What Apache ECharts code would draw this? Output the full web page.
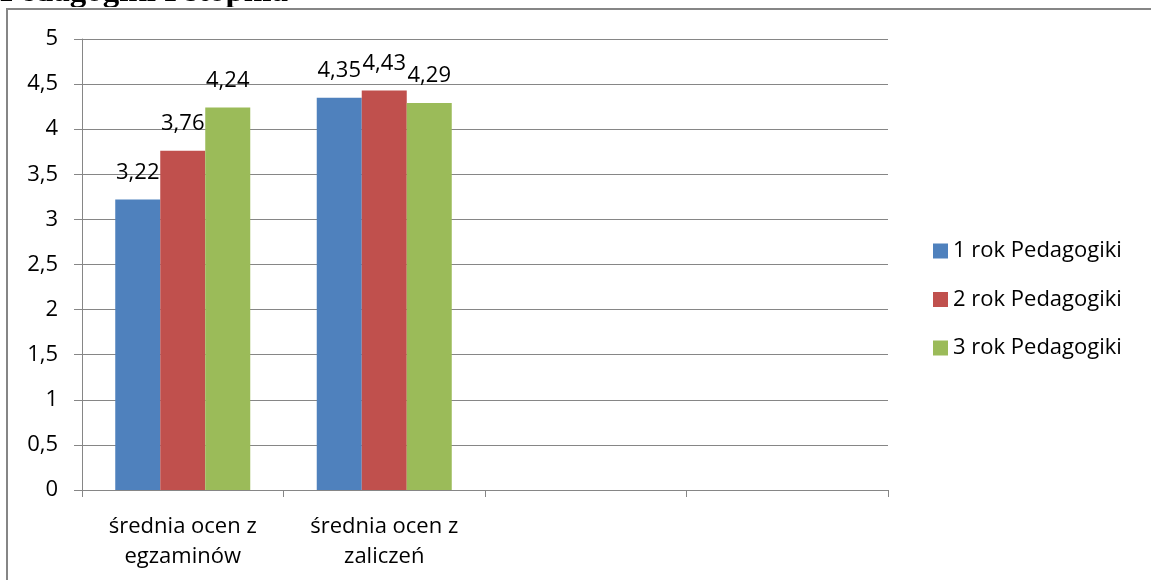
<!DOCTYPE html>
<html>
<head>
<meta charset="utf-8">
<script src="https://cdn.jsdelivr.net/npm/echarts@6/dist/echarts.min.js"></script>
<style>
html,body{margin:0;padding:0;background:#fff;}
#chart{width:1151px;height:580px;}
</style>
</head>
<body>
<div id="chart"></div>
<script>
const titleText = 'Pedagogiki I stopnia';
const categories = ['średnia ocen z\negzaminów', 'średnia ocen z\nzaliczeń', '', ''];
const seriesNames = ['1 rok Pedagogiki', '2 rok Pedagogiki', '3 rok Pedagogiki'];
const year1 = [3.22, 4.35, null, null];
const year2 = [3.76, 4.43, null, null];
const year3 = [4.24, 4.29, null, null];
const colors = ['#4F81BD', '#C0504D', '#9BBB59'];
const yTicks = {min: 0, max: 5, interval: 0.5};

const FONT = 'Open Sans';
const FS = 22;
const comma = v => String(v).replace('.', ',');

const chart = echarts.init(document.getElementById('chart'));
const seriesData = [year1, year2, year3];
chart.setOption({
  animation: false,
  color: colors,
  textStyle: {fontFamily: FONT},
  graphic: [
    {type: 'text', left: 0, top: -24, z: 1,
     style: {text: titleText, font: 'bold 33px "Liberation Serif"', fill: '#000'}},
    {type: 'rect', z: 2, shape: {x: 0, y: 7, width: 1151, height: 4}, style: {fill: '#fff'}},
    {type: 'rect', z: 3, shape: {x: 7, y: 9, width: 1300, height: 700},
     style: {fill: 'none', stroke: '#868686', lineWidth: 2}}
  ],
  grid: {left: 82, right: 263, top: 39, bottom: 90, containLabel: false},
  legend: {
    orient: 'vertical', left: 928, top: 235,
    itemWidth: 15, itemHeight: 15, itemGap: 26.5,
    icon: 'rect',
    textStyle: {fontSize: FS, color: '#000', fontFamily: FONT},
    data: seriesNames
  },
  xAxis: {
    type: 'category', data: categories,
    axisLine: {show: true, lineStyle: {color: '#868686', width: 1}},
    axisTick: {show: true, interval: 0, length: 7, lineStyle: {color: '#868686'}},
    axisLabel: {interval: 0, fontSize: FS, lineHeight: 30, color: '#000', margin: 22, fontFamily: FONT},
    splitLine: {show: false}
  },
  yAxis: {
    type: 'value', min: yTicks.min, max: yTicks.max, interval: yTicks.interval,
    axisLine: {show: true, lineStyle: {color: '#868686', width: 1}},
    axisTick: {show: true, length: 8, lineStyle: {color: '#868686'}},
    axisLabel: {fontSize: FS, color: '#000', margin: 24, formatter: comma, fontFamily: FONT},
    splitLine: {show: true, lineStyle: {color: '#868686', width: 1}}
  },
  series: seriesNames.map((name, i) => ({
    name, type: 'bar', data: seriesData[i],
    barGap: '0%', barCategoryGap: '33%',
    itemStyle: {color: colors[i]},
    label: {show: true, position: 'top', distance: 16, fontSize: FS, color: '#000', fontFamily: FONT,
            formatter: p => p.value == null ? '' : p.value.toFixed(2).replace('.', ',')}
  }))
});
</script>
</body>
</html>
